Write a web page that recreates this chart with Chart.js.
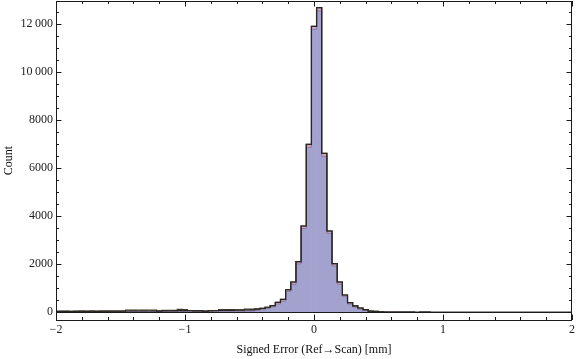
<!DOCTYPE html>
<html>
<head>
<meta charset="utf-8">
<title>Signed Error Histogram</title>
<script src="https://cdn.jsdelivr.net/npm/chart.js@4.4.1/dist/chart.umd.min.js"></script>
<style>
    html, body { margin: 0; padding: 0; background: #ffffff; }
    #wrap { width: 576px; height: 359px; }
</style>
</head>
<body>
<div id="wrap"><canvas id="histogram"></canvas></div>
<script>
// Bin centres (mm), bin width 0.04
const binCenters = [
    -2.00, -1.96, -1.92, -1.88, -1.84, -1.80, -1.76, -1.72, -1.68, -1.64,
    -1.60, -1.56, -1.52, -1.48, -1.44, -1.40, -1.36, -1.32, -1.28, -1.24,
    -1.20, -1.16, -1.12, -1.08, -1.04, -1.00, -0.96, -0.92, -0.88, -0.84,
    -0.80, -0.76, -0.72, -0.68, -0.64, -0.60, -0.56, -0.52, -0.48, -0.44,
    -0.40, -0.36, -0.32, -0.28, -0.24, -0.20, -0.16, -0.12, -0.08, -0.04,
    0.00, 0.04, 0.08, 0.12, 0.16, 0.20, 0.24, 0.28, 0.32, 0.36,
    0.40, 0.44, 0.48, 0.52, 0.56, 0.60, 0.64, 0.68, 0.72, 0.76,
    0.80, 0.84, 0.88, 0.92, 0.96, 1.00, 1.04, 1.08, 1.12, 1.16,
    1.20, 1.24, 1.28, 1.32, 1.36, 1.40, 1.44, 1.48, 1.52, 1.56,
    1.60, 1.64, 1.68, 1.72, 1.76, 1.80, 1.84, 1.88, 1.92, 1.96,
    2.00
];

// Stacked counts per bin
const countsBlue = [
    15, 15, 15, 15, 15, 20, 15, 20, 15, 20,
    20, 20, 20, 20, 25, 25, 25, 25, 25, 25,
    20, 25, 25, 25, 30, 30, 25, 25, 25, 20,
    25, 25, 35, 35, 35, 40, 40, 50, 55, 80,
    110, 155, 225, 345, 465, 870, 1163, 2013, 3490, 6870,
    11790, 12560, 6500, 3290, 1930, 1170, 650, 340, 220, 135,
    80, 25, 20, 8, 6, 5, 5, 5, 5, 5,
    0, 5, 5, 0, 0, 0, 0, 0, 0, 0,
    0, 0, 0, 0, 0, 0, 0, 0, 0, 0,
    0, 0, 0, 0, 0, 0, 0, 0, 0, 0,
    0
];
const countsPink = [
    20, 25, 25, 20, 25, 25, 25, 25, 25, 25,
    25, 30, 25, 30, 30, 30, 30, 30, 30, 30,
    30, 35, 35, 35, 40, 40, 40, 35, 35, 25,
    40, 40, 40, 40, 45, 50, 50, 45, 45, 50,
    55, 55, 55, 65, 70, 70, 100, 100, 106, 130,
    127, 136, 125, 98, 99, 93, 71, 64, 50, 45,
    30, 20, 15, 7, 6, 3, 3, 3, 3, 3,
    2, 3, 3, 0, 0, 0, 0, 0, 0, 0,
    0, 0, 0, 0, 0, 0, 0, 0, 0, 0,
    0, 0, 0, 0, 0, 0, 0, 0, 0, 0,
    0
];
const countsYellow = [
    5, 5, 5, 5, 5, 5, 5, 5, 5, 5,
    5, 5, 5, 5, 40, 35, 40, 35, 40, 35,
    10, 20, 25, 20, 50, 45, 10, 10, 10, 5,
    5, 10, 35, 35, 35, 10, 10, 35, 30, 10,
    0, 0, 0, 0, 0, 0, 0, 0, 0, 0,
    0, 0, 0, 0, 0, 0, 0, 0, 0, 0,
    0, 0, 0, 0, 0, 0, 0, 0, 0, 0,
    0, 0, 0, 0, 0, 0, 0, 0, 0, 0,
    0, 0, 0, 0, 0, 0, 0, 0, 0, 0,
    0, 0, 0, 0, 0, 0, 0, 0, 0, 0,
    0
];

// Axis ticks
const xTickValues = [-2, -1, 0, 1, 2];
const xTickLabels = ['\u22122', '\u22121', '0', '1', '2'];
const yTickValues = [0, 2000, 4000, 6000, 8000, 10000, 12000];
const yTickLabels = ['0', '2000', '4000', '6000', '8000', '10\u2009000', '12\u2009000'];

const FRAME_COLOR = '#1a1a1a';

/**
 * Trace the step outline along the tops of one stacked dataset's bars
 */
function strokeStepOutline(ctx, bars, color, width) {
    if (!bars.length) return;
    ctx.save();
    ctx.strokeStyle = color;
    ctx.lineWidth = width;
    ctx.lineJoin = 'miter';
    ctx.beginPath();
    const first = bars[0].getProps(['x', 'y', 'base', 'width'], true);
    ctx.moveTo(first.x - first.width / 2, first.base);
    bars.forEach(bar => {
        const p = bar.getProps(['x', 'y', 'width'], true);
        ctx.lineTo(p.x - p.width / 2, p.y);
        ctx.lineTo(p.x + p.width / 2, p.y);
    });
    const last = bars[bars.length - 1].getProps(['x', 'base', 'width'], true);
    ctx.lineTo(last.x + last.width / 2, last.base);
    ctx.stroke();
    ctx.restore();
}

/**
 * Draws bar outlines, the Mathematica style frame with inward ticks and the zero axis
 */
const framePlugin = {
    id: 'frame',
    afterDatasetsDraw(chart) {
        const { ctx, chartArea: area } = chart;
        const xs = chart.scales.x;
        const ys = chart.scales.y;

        // outlines of the stacked layers, clipped to the plot
        ctx.save();
        ctx.beginPath();
        ctx.rect(area.left, area.top, area.right - area.left, area.bottom - area.top);
        ctx.clip();
        strokeStepOutline(ctx, chart.getDatasetMeta(0).data, 'rgba(90, 60, 90, 0.45)', 0.8);
        strokeStepOutline(ctx, chart.getDatasetMeta(1).data, 'rgba(25, 25, 25, 0.9)', 1.2);
        strokeStepOutline(ctx, chart.getDatasetMeta(2).data, 'rgba(40, 40, 30, 0.9)', 1.2);
        ctx.restore();

        ctx.save();
        ctx.strokeStyle = FRAME_COLOR;
        ctx.lineWidth = 1;

        // zero axis line
        const y0 = Math.round(ys.getPixelForValue(0)) + 0.5;
        ctx.beginPath();
        ctx.moveTo(area.left, y0);
        ctx.lineTo(area.right, y0);
        ctx.stroke();

        // frame
        ctx.strokeRect(area.left + 0.5, area.top + 0.5, area.right - area.left - 1, area.bottom - area.top);

        ctx.beginPath();
        // x ticks, minor every 0.2, major at integers
        for (let k = -10; k <= 10; k++) {
            const px = Math.round(xs.getPixelForValue(k * 0.2)) + 0.5;
            const len = k % 5 === 0 ? 5.5 : 3;
            ctx.moveTo(px, area.bottom);
            ctx.lineTo(px, area.bottom - len);
            ctx.moveTo(px, area.top);
            ctx.lineTo(px, area.top + len);
        }
        // y ticks, minor every 500, major every 2000
        for (let v = 0; v <= 12500; v += 500) {
            const py = Math.round(ys.getPixelForValue(v)) + 0.5;
            const len = v % 2000 === 0 ? 5.5 : 3;
            ctx.moveTo(area.left, py);
            ctx.lineTo(area.left + len, py);
            ctx.moveTo(area.right, py);
            ctx.lineTo(area.right - len, py);
        }
        ctx.stroke();
        ctx.restore();
    }
};

function makeDataset(values, fill) {
    return {
        data: values,
        backgroundColor: fill,
        borderWidth: 0,
        barPercentage: 1.0,
        categoryPercentage: 1.0,
        stack: 'counts'
    };
}

// drop the label overhang padding so the plot fills the frame
function noPadding(scale) {
    scale.paddingTop = 0;
    scale.paddingBottom = 0;
    scale.paddingLeft = 0;
    scale.paddingRight = 0;
}

const serif = '"Liberation Serif", "Times New Roman", "DejaVu Serif", serif';

new Chart(document.getElementById('histogram'), {
    type: 'bar',
    data: {
        labels: binCenters,
        datasets: [
            makeDataset(countsBlue, '#a3a2cf'),
            makeDataset(countsPink, '#d3a5c0'),
            makeDataset(countsYellow, '#d9d5a6')
        ]
    },
    options: {
        responsive: true,
        maintainAspectRatio: false,
        animation: false,
        layout: { padding: { top: 1, right: 4, left: 0, bottom: 0 } },
        plugins: {
            legend: { display: false },
            tooltip: { enabled: false }
        },
        scales: {
            x: {
                type: 'linear',
                min: -2,
                max: 2,
                offset: false,
                grid: { display: false, drawTicks: false },
                border: { display: false },
                afterBuildTicks: scale => {
                    scale.ticks = xTickValues.map(v => ({ value: v }));
                },
                afterFit: scale => {
                    scale.height = 39;
                    noPadding(scale);
                },
                ticks: {
                    autoSkip: false,
                    maxRotation: 0,
                    padding: 3,
                    color: '#222',
                    font: { family: serif, size: 12 },
                    callback: (value, index) => xTickLabels[index]
                },
                title: {
                    display: true,
                    text: 'Signed Error (Ref\u2192Scan) [mm]',
                    color: '#111',
                    font: { family: serif, size: 12 },
                    padding: { top: 0, bottom: 2 }
                }
            },
            y: {
                stacked: true,
                min: -321,
                max: 12971,
                grid: { display: false, drawTicks: false },
                border: { display: false },
                afterBuildTicks: scale => {
                    scale.ticks = yTickValues.map(v => ({ value: v }));
                },
                afterFit: scale => {
                    scale.width = 56;
                    noPadding(scale);
                },
                ticks: {
                    autoSkip: false,
                    padding: 3,
                    color: '#222',
                    font: { family: serif, size: 12 },
                    callback: (value, index) => yTickLabels[index]
                },
                title: {
                    display: true,
                    text: 'Count',
                    color: '#111',
                    font: { family: serif, size: 12 },
                    padding: { top: 2, bottom: 0 }
                }
            }
        }
    },
    plugins: [framePlugin]
});
</script>
</body>
</html>
